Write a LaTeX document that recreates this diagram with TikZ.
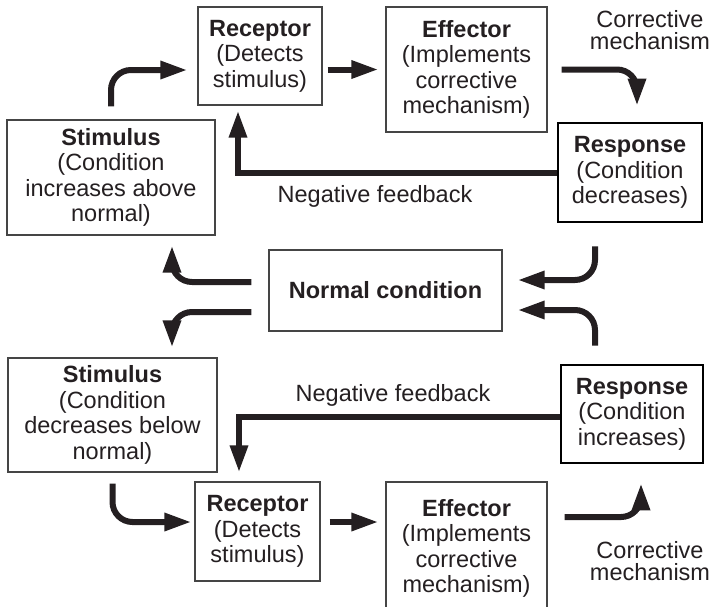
\documentclass[tikz,border=0pt]{standalone}
\usepackage{fontspec}
\setmainfont{Liberation Sans}
\usetikzlibrary{arrows.meta,calc}
\definecolor{InkClr}{rgb}{0.14,0.12,0.13}
\definecolor{BoxClr}{rgb}{0.27,0.27,0.27}

\begin{document}
\begin{tikzpicture}[x=1pt,y=-1pt,
  box/.style={draw=BoxClr,line width=1.2pt,inner sep=0pt,align=center,text=InkClr,
    font=\fontsize{23.5}{25.5}\selectfont},
  resp/.style={box,draw=black,line width=2.6pt},
  lbl/.style={inner sep=0pt,align=center,text=InkClr,font=\fontsize{23.5}{22}\selectfont},
  feed/.style={draw=InkClr,line width=6pt,-{Triangle[length=27pt,width=17pt]}},
  flow/.style={feed,rounded corners=20pt}]
\useasboundingbox (0,0) rectangle (714,606);

\node[box,minimum width=124pt,minimum height=98pt] (recA) at (260,56) {\textbf{Receptor}\\(Detects\\stimulus)};
\node[box,minimum width=161pt,minimum height=125pt] (effA) at (466.5,69.5) {\textbf{Effector}\\(Implements\\corrective\\mechanism)};
\node[box,minimum width=208pt,minimum height=115pt] (stimA) at (111,177.5) {\textbf{Stimulus}\\(Condition\\increases above\\normal)};
\node[resp,minimum width=144pt,minimum height=99pt] (respA) at (630,172.5) {\textbf{Response}\\(Condition\\decreases)};
\node[box,minimum width=233pt,minimum height=81pt] (normal) at (385.5,290.5) {\textbf{Normal condition}};
\node[box,minimum width=209pt,minimum height=114pt] (stimB) at (112.5,415) {\textbf{Stimulus}\\(Condition\\decreases below\\normal)};
\node[resp,minimum width=142pt,minimum height=98pt] (respB) at (632,414) {\textbf{Response}\\(Condition\\increases)};
\node[box,minimum width=125pt,minimum height=99pt] (recB) at (257.5,531.5) {\textbf{Receptor}\\(Detects\\stimulus)};
\node[box,minimum width=161pt,minimum height=133pt] (effB) at (466.5,548.5) {\textbf{Effector}\\(Implements\\corrective\\mechanism)};

\node[lbl] (corA) at (650,30) {Corrective\\mechanism};
\node[lbl] (corB) at (650,561) {Corrective\\mechanism};
\node[lbl] (fbA) at (375,196) {Negative feedback};
\node[lbl] (fbB) at (393,395) {Negative feedback};

\draw[flow,shorten <=13pt,shorten >=10pt] (stimA.north) |- ([yshift=-14pt]recA.west);
\draw[feed,shorten <=5pt,shorten >=7pt] (recA.east |- effA.west) -- (effA.west);
\draw[flow,shorten <=14pt,shorten >=16pt] (effA.east) -| ([xshift=7pt]respA.north);
\draw[feed,shorten >=5pt] (respA.west) -| ([xshift=-22pt]recA.south);

\draw[flow,shorten <=17pt,shorten >=10pt] ([yshift=8.5pt]normal.west) -| ([xshift=61pt]stimA.south);
\draw[flow,shorten <=17pt,shorten >=10pt] ([yshift=-21.5pt]normal.west) -| ([xshift=59.5pt]stimB.north);
\draw[flow,shorten <=23pt,shorten >=15pt] ([xshift=-35pt]respA.south) |- ([yshift=10.5pt]normal.east);
\draw[flow,shorten <=18pt,shorten >=15pt] ([xshift=-37pt]respB.north) |- ([yshift=-19.5pt]normal.east);

\draw[flow,shorten <=11pt,shorten >=3pt] (stimB.south) |- ([yshift=9.5pt]recB.west);
\draw[feed,shorten <=9pt,shorten >=7pt] ([yshift=9.5pt]recB.east) -- ([yshift=26.5pt]effB.west);
\draw[flow,shorten <=17pt,shorten >=19pt] ([yshift=31.5pt]effB.east) -| ([xshift=9pt]respB.south);
\draw[feed,shorten >=9pt] ([yshift=-3pt]respB.west) -| ([xshift=-18.5pt]recB.north);
\end{tikzpicture}
\end{document}
